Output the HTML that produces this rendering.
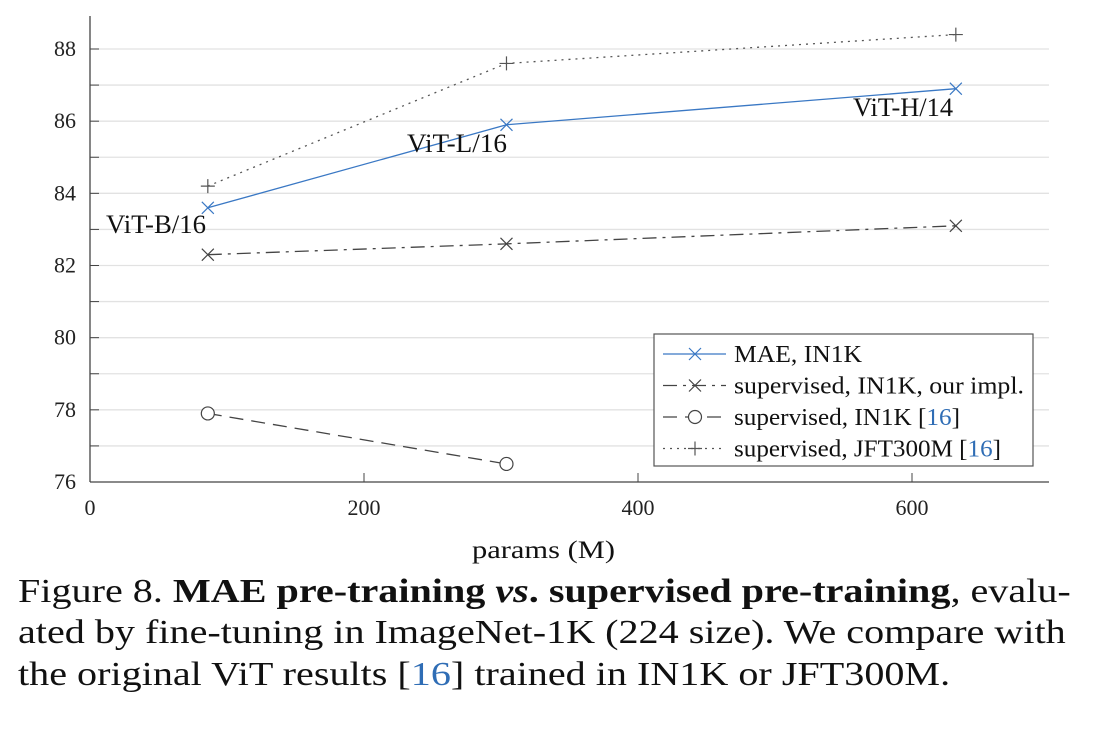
<!DOCTYPE html>
<html><head><meta charset="utf-8"><style>
body{margin:0;background:#fff;width:1104px;height:738px;overflow:hidden;font-family:"Liberation Serif",serif}
.cap{position:absolute;left:18px;font-size:34px;color:#111;white-space:nowrap;transform:scaleX(1.18);transform-origin:0 0}
.ref{color:#2f6db5}
</style></head><body>
<svg id="chart" width="1104" height="570" style="position:absolute;left:0;top:0" font-family="Liberation Serif, serif"></svg>
<div class="cap" style="top:573px">Figure 8. <b>MAE pre-training <i>vs</i>. supervised pre-training</b>, evalu-</div>
<div class="cap" style="top:614px">ated by fine-tuning in ImageNet-1K (224 size). We compare with</div>
<div class="cap" style="top:656px">the original ViT results [<span class="ref">16</span>] trained in IN1K or JFT300M.</div>
<script>
const xParams=[86,304,632];
const maeVals=[83.6,85.9,86.9];
const supOurs=[82.3,82.6,83.1];
const supIn1k=[77.9,76.5];
const supJft=[84.2,87.6,88.4];
const yTicks=[76,78,80,82,84,86,88];
const xTicks=[0,200,400,600];
const modelLabels=["ViT-B/16","ViT-L/16","ViT-H/14"];

const svg=document.getElementById('chart');
const NS='http://www.w3.org/2000/svg';
const X0=90,X1=1049,Y0=482,YT=16;
const sx=v=>X0+(v-0)/(700-0)*(X1-X0);
const sy=v=>Y0-(v-76)/(88-76)*(Y0-49);
function mk(tag,attrs,parent){const e=document.createElementNS(NS,tag);for(const k in attrs)e.setAttribute(k,attrs[k]);(parent||svg).appendChild(e);return e;}

for(let v=77;v<=88;v++){
  const g=mk('line',{x1:X0,x2:X1,y1:sy(v),y2:sy(v),stroke:'#e2e2e2','stroke-width':1.3});
  
  
  const t=mk('line',{x1:X0,x2:X0+9,y1:sy(v),y2:sy(v),stroke:'#444','stroke-width':1});
  
  
}
let ax=mk('line',{x1:X0,x2:X0,y1:YT,y2:Y0,stroke:'#444','stroke-width':1.3});


ax=mk('line',{x1:X0,x2:X1,y1:Y0,y2:Y0,stroke:'#444','stroke-width':1.3});


yTicks.forEach(v=>{
  const t=mk('text',{x:76,y:sy(v)+7,'text-anchor':'end','font-size':22,fill:'#222'});t.textContent=v;
  
  
});
xTicks.forEach(v=>{
  if(v>0){const l=mk('line',{x1:sx(v),x2:sx(v),y1:Y0,y2:Y0-9,stroke:'#444','stroke-width':1});
  
  }
  const t=mk('text',{x:sx(v),y:515,'text-anchor':'middle','font-size':22,fill:'#222'});t.textContent=v;
  
  
});
const xt=mk('text',{x:472,y:558,'font-size':25,fill:'#111',textLength:143,lengthAdjust:'spacingAndGlyphs'});xt.textContent='params (M)';



function marker(type,x,y,color,parent){
  const p=parent||svg;
  if(type==='x'){mk('path',{d:`M${x-6},${y-6}L${x+6},${y+6}M${x-6},${y+6}L${x+6},${y-6}`,stroke:color,'stroke-width':1.2,fill:'none'},p);}
  else if(type==='+'){mk('path',{d:`M${x-7},${y}L${x+7},${y}M${x},${y-7}L${x},${y+7}`,stroke:color,'stroke-width':1.2,fill:'none'},p);}
  else {mk('circle',{cx:x,cy:y,r:6.5,stroke:color,'stroke-width':1.2,fill:'#fff'},p);}
}
function series(name,xs,ys,color,dash,m){
  const g=mk('g',{});
  
  
  const pts=ys.map((v,i)=>sx(xs[i])+','+sy(v)).join(' ');
  mk('polyline',{points:pts,fill:'none',stroke:color,'stroke-width':1.3,'stroke-dasharray':dash},g);
  ys.forEach((v,i)=>marker(m,sx(xs[i]),sy(v),color,g));
}
series('series-jft300m',xParams,supJft,'#555','2 5','+');
series('series-supervised-ours',xParams,supOurs,'#444','14 6 3 6','x');
series('series-supervised-in1k',xParams,supIn1k,'#444','14 8','o');
series('series-mae-in1k',xParams,maeVals,'#3a78c4','','x');

const lp=[[106,233],[407,152],[853,116]];
modelLabels.forEach((s,i)=>{
  const t=mk('text',{x:lp[i][0],y:lp[i][1],'font-size':26,fill:'#111',textLength:100,lengthAdjust:'spacingAndGlyphs'});t.textContent=s;
  
  
});

const lg=mk('g',{});


mk('rect',{x:654,y:334,width:379,height:132,fill:'#fff',stroke:'#555','stroke-width':1.2},lg);
const items=[['MAE, IN1K','#3a78c4','','x','',128],['supervised, IN1K, our impl.','#444','14 6 3 6','x','',290],['supervised, IN1K ','#444','14 8','o','16',226],['supervised, JFT300M ','#555','2 5','+','16',267]];
items.forEach((it,i)=>{
  const y=354+i*31.5;
  const e=mk('g',{},lg);
  
  
  mk('line',{x1:663,x2:726,y1:y,y2:y,stroke:it[1],'stroke-width':1.2,'stroke-dasharray':it[2]},e);
  marker(it[3],695,y,it[1],e);
  const t=mk('text',{x:734,y:y+8,'font-size':24,fill:'#111',textLength:it[5],lengthAdjust:'spacingAndGlyphs'},e);
  t.textContent=it[0];
  if(it[4]){t.appendChild(document.createTextNode('['));const s=document.createElementNS(NS,'tspan');s.setAttribute('fill','#2f6db5');s.textContent=it[4];t.appendChild(s);t.appendChild(document.createTextNode(']'));}
});
</script>
</body></html>
